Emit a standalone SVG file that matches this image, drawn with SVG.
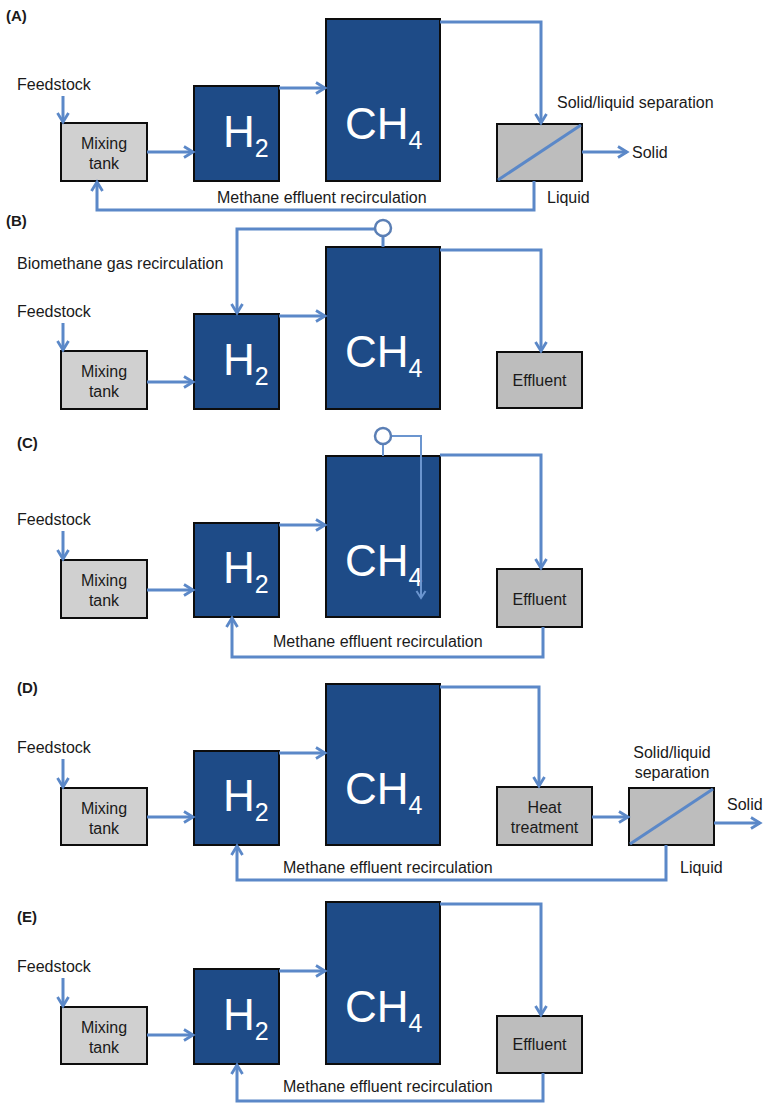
<svg xmlns="http://www.w3.org/2000/svg" width="764" height="1106" viewBox="0 0 764 1106">
<style>
text{font-family:"Liberation Sans",Arial,sans-serif;fill:#1a1a1a;font-size:16px}
.lbl{font-weight:bold;font-size:15px}
.mid{text-anchor:middle}
.reactor{fill:#1e4b87;stroke:#0d0d0d;stroke-width:2}
.tank{fill:#d0d0d0;stroke:#0d0d0d;stroke-width:2}
.gbox{fill:#bdbdbd;stroke:#0d0d0d;stroke-width:2}
.big{fill:#ffffff;font-size:44px}
.sub{fill:#ffffff;font-size:25px}
.flow{fill:none;stroke:#5b88c8;stroke-width:3;stroke-linejoin:miter}
.thin{fill:none;stroke:#6b95cf;stroke-width:2}
.diag{stroke:#5b88c8;stroke-width:3}
.valve{fill:#ffffff;stroke:#5b7fb5;stroke-width:2.5}
</style>
<defs>
<marker id="ah" markerUnits="userSpaceOnUse" markerWidth="14" markerHeight="14" refX="11" refY="7" orient="auto">
<path d="M2,1.5 L11,7 L2,12.5" fill="none" stroke="#5b88c8" stroke-width="2.8"/>
</marker>
<marker id="ahs" markerUnits="userSpaceOnUse" markerWidth="12" markerHeight="12" refX="9" refY="6" orient="auto">
<path d="M2,1.5 L9,6 L2,10.5" fill="none" stroke="#6b95cf" stroke-width="2"/>
</marker>
</defs>

<!-- Panel labels and free texts -->
<g id="texts">
<text class="lbl" x="6" y="21">(A)</text>
<text x="17" y="90">Feedstock</text>
<text x="557" y="108">Solid/liquid separation</text>
<text x="632" y="158">Solid</text>
<text x="547" y="203">Liquid</text>
<text x="217" y="203">Methane effluent recirculation</text>

<text class="lbl" x="6" y="226">(B)</text>
<text x="17" y="269">Biomethane gas recirculation</text>
<text x="17" y="317">Feedstock</text>

<text class="lbl" x="17" y="448">(C)</text>
<text x="17" y="525">Feedstock</text>
<text x="273" y="647">Methane effluent recirculation</text>

<text class="lbl" x="17" y="693">(D)</text>
<text x="17" y="753">Feedstock</text>
<text class="mid" x="672" y="758">Solid/liquid</text>
<text class="mid" x="672" y="778">separation</text>
<text x="727" y="810">Solid</text>
<text x="680" y="873">Liquid</text>
<text x="283" y="873">Methane effluent recirculation</text>

<text class="lbl" x="17" y="922">(E)</text>
<text x="17" y="972">Feedstock</text>
<text x="283" y="1092">Methane effluent recirculation</text>
</g>

<!-- Panel A nodes -->
<g id="A-mix"><rect class="tank" x="61" y="123" width="86" height="58"/><text class="mid" x="104" y="149">Mixing</text><text class="mid" x="104" y="169">tank</text></g>
<g id="A-h2"><rect class="reactor" x="194" y="86" width="85" height="95"/><text class="big" x="223" y="147">H<tspan class="sub" dy="10">2</tspan></text></g>
<g id="A-ch4"><rect class="reactor" x="326" y="19" width="114" height="162"/><text class="big" x="345" y="139">CH<tspan class="sub" dy="10">4</tspan></text></g>
<g id="A-sep"><rect class="gbox" x="497" y="124" width="85" height="57"/><line class="diag" x1="498" y1="180" x2="581" y2="125"/></g>

<!-- Panel B nodes -->
<g id="B-mix"><rect class="tank" x="61" y="351" width="86" height="58"/><text class="mid" x="104" y="377">Mixing</text><text class="mid" x="104" y="397">tank</text></g>
<g id="B-h2"><rect class="reactor" x="194" y="314" width="85" height="95"/><text class="big" x="223" y="375">H<tspan class="sub" dy="10">2</tspan></text></g>
<g id="B-ch4"><rect class="reactor" x="326" y="247" width="114" height="162"/><text class="big" x="345" y="367">CH<tspan class="sub" dy="10">4</tspan></text></g>
<g id="B-eff"><rect class="gbox" x="497" y="352" width="85" height="56"/><text class="mid" x="539.5" y="386">Effluent</text></g>

<!-- Panel C nodes -->
<g id="C-mix"><rect class="tank" x="61" y="560" width="86" height="58"/><text class="mid" x="104" y="586">Mixing</text><text class="mid" x="104" y="606">tank</text></g>
<g id="C-h2"><rect class="reactor" x="194" y="523" width="85" height="94"/><text class="big" x="223" y="583">H<tspan class="sub" dy="10">2</tspan></text></g>
<g id="C-ch4"><rect class="reactor" x="326" y="456" width="114" height="161"/><text class="big" x="345" y="576">CH<tspan class="sub" dy="10">4</tspan></text></g>
<g id="C-eff"><rect class="gbox" x="497" y="569" width="85" height="58"/><text class="mid" x="539.5" y="605">Effluent</text></g>

<!-- Panel D nodes -->
<g id="D-mix"><rect class="tank" x="61" y="788" width="86" height="57"/><text class="mid" x="104" y="814">Mixing</text><text class="mid" x="104" y="834">tank</text></g>
<g id="D-h2"><rect class="reactor" x="194" y="751" width="85" height="94"/><text class="big" x="223" y="811">H<tspan class="sub" dy="10">2</tspan></text></g>
<g id="D-ch4"><rect class="reactor" x="326" y="684" width="114" height="161"/><text class="big" x="345" y="804">CH<tspan class="sub" dy="10">4</tspan></text></g>
<g id="D-heat"><rect class="gbox" x="497" y="787" width="95" height="58"/><text class="mid" x="544.5" y="813">Heat</text><text class="mid" x="544.5" y="833">treatment</text></g>
<g id="D-sep"><rect class="gbox" x="629" y="788" width="85" height="57"/><line class="diag" x1="630" y1="844" x2="713" y2="789"/></g>

<!-- Panel E nodes -->
<g id="E-mix"><rect class="tank" x="61" y="1007" width="86" height="57"/><text class="mid" x="104" y="1033">Mixing</text><text class="mid" x="104" y="1053">tank</text></g>
<g id="E-h2"><rect class="reactor" x="194" y="969" width="85" height="95"/><text class="big" x="223" y="1030">H<tspan class="sub" dy="10">2</tspan></text></g>
<g id="E-ch4"><rect class="reactor" x="326" y="902" width="114" height="162"/><text class="big" x="345" y="1022">CH<tspan class="sub" dy="10">4</tspan></text></g>
<g id="E-eff"><rect class="gbox" x="497" y="1016" width="85" height="57"/><text class="mid" x="539.5" y="1050">Effluent</text></g>

<!-- Connectors -->
<g id="connectors">
<!-- A -->
<path class="flow" d="M63,96 V122" marker-end="url(#ah)"/>
<path class="flow" d="M147,152 H193" marker-end="url(#ah)"/>
<path class="flow" d="M279,88 H325" marker-end="url(#ah)"/>
<path class="flow" d="M440,22 H541 V123" marker-end="url(#ah)"/>
<path class="flow" d="M582,152 H627" marker-end="url(#ah)"/>
<path class="flow" d="M534,181 V210 H97 V182" marker-end="url(#ah)"/>
<!-- B -->
<path class="flow" d="M375,229 H237 V313" marker-end="url(#ah)"/>
<path class="flow" d="M383,236 V247"/>
<circle class="valve" cx="383" cy="228" r="8"/>
<path class="flow" d="M63,323 V350" marker-end="url(#ah)"/>
<path class="flow" d="M147,382 H193" marker-end="url(#ah)"/>
<path class="flow" d="M279,316 H325" marker-end="url(#ah)"/>
<path class="flow" d="M440,250 H541 V351" marker-end="url(#ah)"/>
<!-- C -->
<path class="thin" d="M391,436 H421 V598" marker-end="url(#ahs)"/>
<path class="thin" d="M383,444 V456"/>
<circle class="valve" cx="383" cy="436" r="8"/>
<path class="flow" d="M63,531 V559" marker-end="url(#ah)"/>
<path class="flow" d="M147,590 H193" marker-end="url(#ah)"/>
<path class="flow" d="M279,525 H325" marker-end="url(#ah)"/>
<path class="flow" d="M440,455 H541 V568" marker-end="url(#ah)"/>
<path class="flow" d="M543,627 V657 H232 V618" marker-end="url(#ah)"/>
<!-- D -->
<path class="flow" d="M63,759 V787" marker-end="url(#ah)"/>
<path class="flow" d="M147,817 H193" marker-end="url(#ah)"/>
<path class="flow" d="M279,753 H325" marker-end="url(#ah)"/>
<path class="flow" d="M440,687 H539 V786" marker-end="url(#ah)"/>
<path class="flow" d="M592,817 H628" marker-end="url(#ah)"/>
<path class="flow" d="M714,823 H760" marker-end="url(#ah)"/>
<path class="flow" d="M666,845 V880 H237 V846" marker-end="url(#ah)"/>
<!-- E -->
<path class="flow" d="M63,978 V1006" marker-end="url(#ah)"/>
<path class="flow" d="M147,1035 H193" marker-end="url(#ah)"/>
<path class="flow" d="M279,971 H325" marker-end="url(#ah)"/>
<path class="flow" d="M440,904 H541 V1015" marker-end="url(#ah)"/>
<path class="flow" d="M543,1073 V1101 H237 V1065" marker-end="url(#ah)"/>
</g>
</svg>
